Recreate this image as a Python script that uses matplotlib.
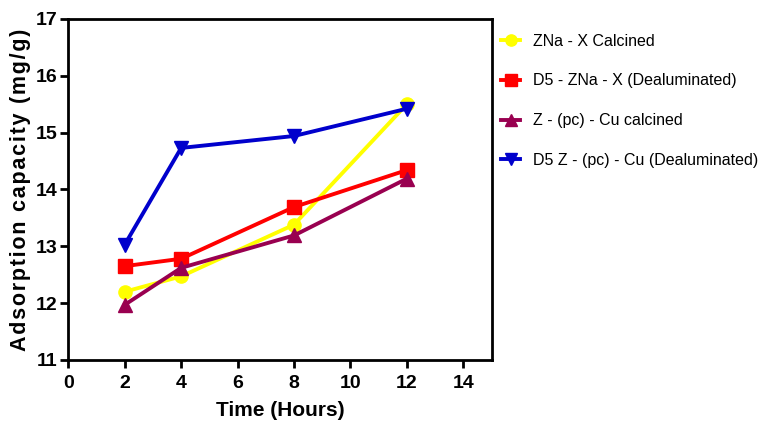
import matplotlib
matplotlib.use("Agg")
import matplotlib.pyplot as plt

hours = [2, 4, 8, 12]
zna_x_calcined = [12.20, 12.47, 13.38, 15.50]
d5_zna_x_dealum = [12.65, 12.78, 13.69, 14.34]
z_pc_cu_calcined = [11.97, 12.62, 13.19, 14.19]
d5_z_pc_cu_dealum = [13.03, 14.73, 14.94, 15.42]

labels = ["ZNa - X Calcined", "D5 - ZNa - X (Dealuminated)",
          "Z - (pc) - Cu calcined", "D5 Z - (pc) - Cu (Dealuminated)"]
series = [zna_x_calcined, d5_zna_x_dealum, z_pc_cu_calcined, d5_z_pc_cu_dealum]
colors = ["#FFFF00", "#FF0000", "#990050", "#0000CC"]
markers = ["o", "s", "^", "v"]

plt.rcParams["font.family"] = ["Liberation Sans", "DejaVu Sans"]

fig = plt.figure(figsize=(7.68, 4.3), dpi=100)
ax = fig.add_axes([0.089, 0.163, 0.551, 0.793])

for ys, c, m, lab in zip(series, colors, markers, labels):
    ax.plot(hours, ys, color=c, marker=m, markersize=9.5, lw=2.8, label=lab)

ax.set_xlim(0, 15)
ax.set_ylim(11, 17)
ax.set_xticks(range(0, 15, 2))
ax.set_yticks(range(11, 18))
for s in ax.spines.values():
    s.set_linewidth(2)
    s.set_color("black")
ax.tick_params(axis="both", direction="out", width=2, length=6, labelsize=14)
ax.tick_params(axis="x", pad=5)
ax.tick_params(axis="y", pad=2)
for t in ax.get_xticklabels() + ax.get_yticklabels():
    t.set_fontweight("bold")

# the y label in the original is letter-spaced
ylab = "\u200a".join("Adsorption capacity (mg/g)")
ax.set_xlabel("Time (Hours)", fontsize=15, fontweight="bold", labelpad=6)
ax.set_ylabel(ylab, fontsize=15.5, fontweight="bold", labelpad=3)

ax.legend(loc="upper left", bbox_to_anchor=(1.0, 0.985), frameon=False,
          fontsize=11.5, handlelength=1.2, handletextpad=0.8, labelspacing=1.55,
          borderaxespad=0.2, markerscale=0.85)

fig.savefig("out.png", dpi=100)
